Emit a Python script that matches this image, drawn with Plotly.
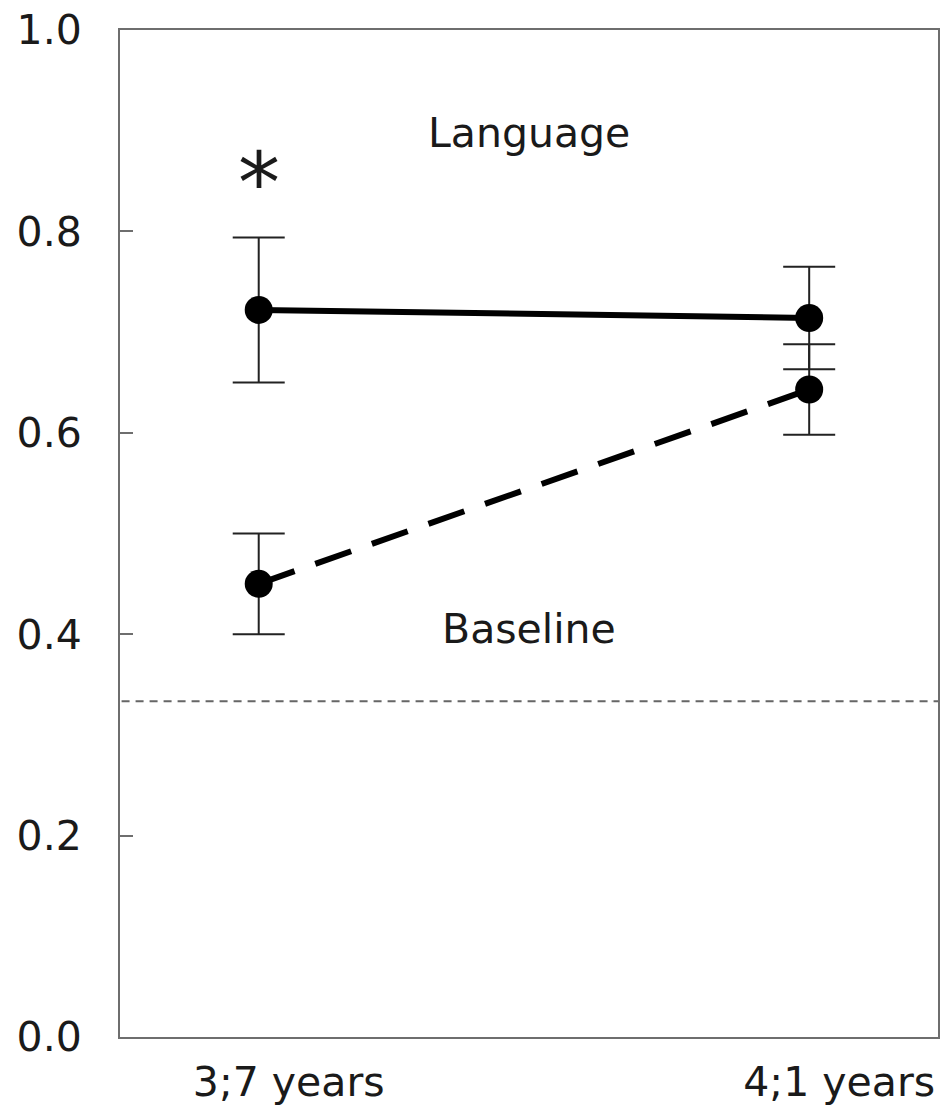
import plotly.graph_objects as go

ages = ["3;7 years", "4;1 years"]
x_pos = [0, 1]
language_mean = [0.722, 0.714]
language_err = [0.072, 0.051]
baseline_mean = [0.450, 0.643]
baseline_err = [0.050, 0.045]
chance = 1 / 3
y_ticks = [0.0, 0.2, 0.4, 0.6, 0.8, 1.0]
y_tick_text = ["0.0", "0.2", "0.4", "0.6", "0.8", "1.0"]

FONT = "DejaVu Sans"
TXT = "#1a1a1a"
FS = 41

fig = go.Figure()

fig.add_trace(go.Scatter(
    x=[-0.3, 1.3], y=[chance, chance], mode="lines",
    line=dict(color="#666666", width=2, dash="8px,6px"),
    hoverinfo="skip", showlegend=False))

fig.add_trace(go.Scatter(
    x=x_pos, y=language_mean, mode="lines+markers",
    line=dict(color="black", width=6),
    marker=dict(size=28, color="black"),
    error_y=dict(type="data", array=language_err, color="#222222", thickness=2, width=26),
    showlegend=False))

fig.add_trace(go.Scatter(
    x=x_pos, y=baseline_mean, mode="lines+markers",
    line=dict(color="black", width=6, dash="38px,22px"),
    marker=dict(size=28, color="black"),
    error_y=dict(type="data", array=baseline_err, color="#222222", thickness=2, width=26),
    showlegend=False))

fig.add_annotation(x=0.491, y=0.898, text="Language", showarrow=False,
                   font=dict(family=FONT, size=FS, color=TXT))
fig.add_annotation(x=0.491, y=0.405, text="Baseline", showarrow=False,
                   font=dict(family=FONT, size=FS, color=TXT))
fig.add_annotation(x=0, y=0.848, text="*", showarrow=False,
                   font=dict(family=FONT, size=84, color=TXT))

fig.update_layout(
    width=944, height=1111,
    margin=dict(l=120, r=4, t=30, b=74),
    paper_bgcolor="white", plot_bgcolor="white",
    font=dict(family=FONT, size=FS, color=TXT),
)
fig.update_xaxes(
    range=[-0.252, 1.234], tickvals=x_pos, ticktext=ages,
    showgrid=False, zeroline=False, showline=True, linecolor="#6e6e6e",
    linewidth=2, mirror=True, ticks="", ticklabelshift=30, ticklabelstandoff=8,
    tickfont=dict(family=FONT, size=FS, color=TXT))
fig.update_yaxes(
    range=[0, 1.0], tickvals=y_ticks, ticktext=y_tick_text,
    showgrid=False, zeroline=False, showline=True, linecolor="#6e6e6e",
    linewidth=2, mirror=True, ticks="inside", ticklen=13, tickcolor="#6e6e6e",
    tickwidth=2, ticklabelstandoff=28,
    tickfont=dict(family=FONT, size=FS, color=TXT))

fig.write_html("out.html")
